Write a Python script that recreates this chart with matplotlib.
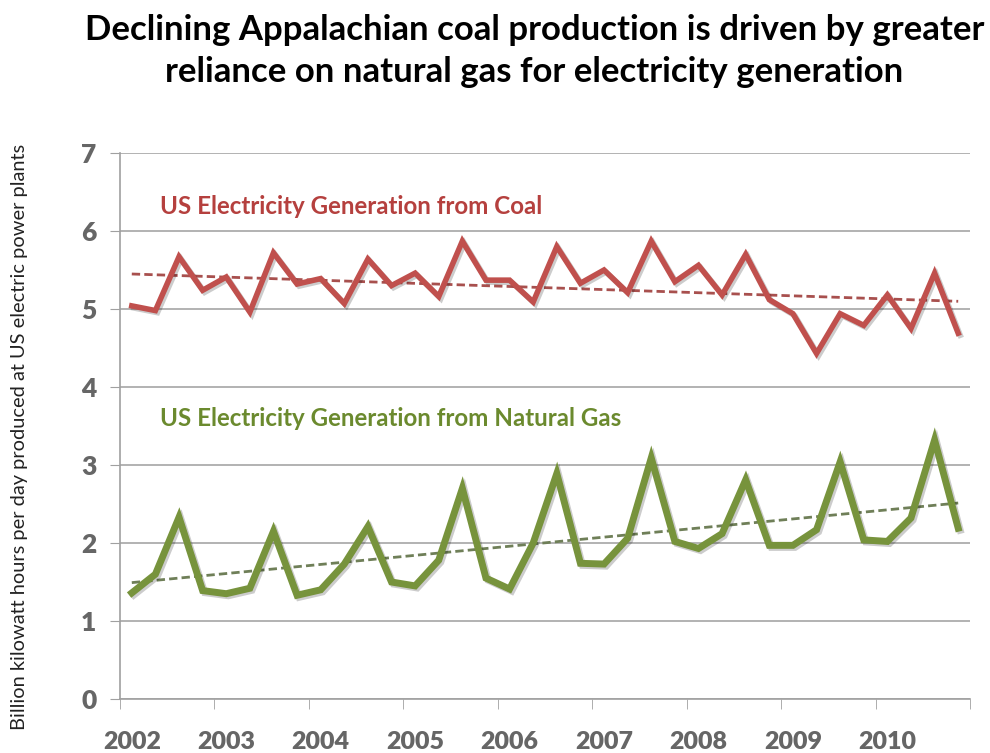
import matplotlib.pyplot as plt
import matplotlib.patheffects as pe
import numpy as np

years = ['2002', '2003', '2004', '2005', '2006', '2007', '2008', '2009', '2010']

# quarterly values, 2002 Q1 .. 2010 Q4 (billion kWh per day)
coal = [5.04, 4.98, 5.67, 5.24, 5.41, 4.96, 5.72, 5.32, 5.39, 5.07, 5.64, 5.30,
        5.46, 5.16, 5.87, 5.37, 5.37, 5.09, 5.80, 5.33, 5.50, 5.21, 5.87, 5.35,
        5.56, 5.18, 5.70, 5.12, 4.94, 4.43, 4.94, 4.79, 5.18, 4.75, 5.46, 4.69]
gas = [1.36, 1.60, 2.33, 1.39, 1.35, 1.42, 2.15, 1.33, 1.40, 1.73, 2.21, 1.50,
       1.45, 1.78, 2.70, 1.55, 1.41, 2.00, 2.89, 1.74, 1.73, 2.06, 3.09, 2.02,
       1.93, 2.12, 2.81, 1.97, 1.97, 2.17, 3.04, 2.04, 2.02, 2.32, 3.32, 2.19]

coal_color = '#c0504d'
gas_color = '#77933c'
font = ['Lato', 'DejaVu Sans']
plt.rcParams['font.family'] = font

fig = plt.figure(figsize=(9.9, 7.53), dpi=100)
ax = fig.add_axes([0.1212, 0.0717, 0.8586, 0.7251])

x = np.arange(len(coal))

# linear trend lines
for vals, col in [(coal, '#a8504e'), (gas, '#6f7f58')]:
    k, b = np.polyfit(x, vals, 1)
    ax.plot(x, k * x + b, color=col, lw=2, ls=(0, (3, 1.5)), zorder=3)

shadow = [pe.SimpleLineShadow(offset=(1.5, -1.5), alpha=0.2), pe.Normal()]
ax.plot(x, coal, color=coal_color, lw=4, solid_joinstyle='miter', path_effects=shadow, zorder=4)
ax.plot(x, gas, color=gas_color, lw=5, solid_joinstyle='miter', path_effects=shadow, zorder=4)

ax.text(1.2, 6.31, 'US Electricity Generation from Coal', color='#b5403e',
        fontsize=17.4, fontweight='bold', va='center', ha='left')
ax.text(1.2, 3.59, 'US Electricity Generation from Natural Gas', color='#6b8a2e',
        fontsize=17.4, fontweight='bold', va='center', ha='left')

ax.set_xlim(-0.5, len(coal) - 0.5)
ax.set_ylim(0, 7)
ax.set_yticks(range(0, 8))
ax.set_xticks(np.arange(0, len(coal), 4))
ax.set_xticklabels(years)
ax.set_xticks(np.arange(-0.5, len(coal), 4), minor=True)
ax.tick_params(axis='x', which='major', length=0, pad=23, labelsize=18, labelcolor='#666666')
ax.tick_params(axis='x', which='minor', length=7, direction='out', color='#a0a0a0')
ax.tick_params(axis='y', length=7, direction='out', color='#a0a0a0', pad=10,
               labelsize=19, labelcolor='#666666')
for lab in ax.get_xticklabels() + ax.get_yticklabels():
    lab.set_fontweight('heavy')

ax.grid(axis='y', color='#a6a6a6', lw=1.2)
ax.set_axisbelow(True)
for s in ['top', 'right']:
    ax.spines[s].set_visible(False)
for s in ['left', 'bottom']:
    ax.spines[s].set_color('#a0a0a0')
    ax.spines[s].set_linewidth(1.2)

fig.text(0.02, 0.42, 'Billion kilowatt hours per day produced at US electric power plants',
         rotation=90, ha='center', va='center', fontsize=14.4, color='#222222')

fig.text(0.54, 0.96, 'Declining Appalachian coal production is driven by greater',
         ha='center', va='center', fontsize=25, fontweight='bold')
fig.text(0.54, 0.904, 'reliance on natural gas for electricity generation',
         ha='center', va='center', fontsize=25, fontweight='bold')

fig.savefig('out.png', dpi=100)
